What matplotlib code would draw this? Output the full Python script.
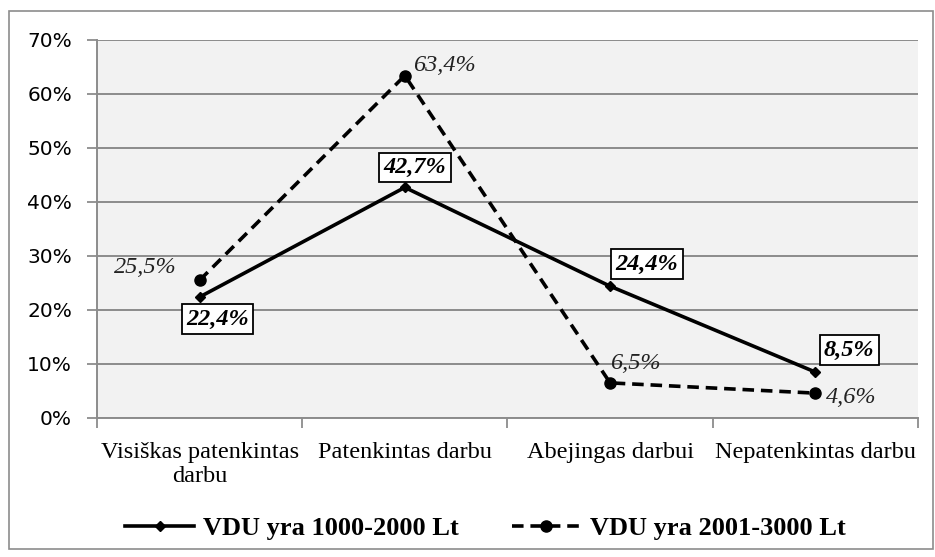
import matplotlib.pyplot as plt
from matplotlib.lines import Line2D
from matplotlib.patches import Rectangle

# duomenys
categories = ['Visiškas patenkintas\ndarbu', 'Patenkintas darbu', 'Abejingas darbui', 'Nepatenkintas darbu']
low_pay = [22.4, 42.7, 24.4, 8.5]
high_pay = [25.5, 63.4, 6.5, 4.6]
low_name = 'VDU yra 1000-2000 Lt'
high_name = 'VDU yra 2001-3000 Lt'
yticks = [0, 10, 20, 30, 40, 50, 60, 70]

low_offsets = [(18, -22), (10, 20), (37, 22), (34, 22)]
high_offsets = [(-54, 13), (40, 10), (25, 19), (36, -4)]

grid_c = '#8c8c8c'
lw = 2.6
dash = (0, (3.2, 1.9))

fig = plt.figure(figsize=(9.35, 5.57), dpi=100)
ax = fig.add_axes([0.1037, 0.2496, 0.8781, 0.6786])
ax.set_facecolor('#f2f2f2')

x = list(range(len(categories)))
ax.plot(x, low_pay, color='black', lw=lw, marker='D', ms=5.5, zorder=4)
ax.plot(x, high_pay, color='black', lw=lw, ls=dash, marker='o', ms=8, zorder=4)

for i, v in enumerate(low_pay):
    ax.annotate(f'{v:.1f}%'.replace('.', ','), (i, v), xytext=low_offsets[i],
                textcoords='offset pixels', ha='center', va='center',
                family='Liberation Serif', style='italic', weight='bold', fontsize=17.5,
                bbox=dict(boxstyle='square,pad=0.18', fc='white', ec='black', lw=1.3), zorder=6)
for i, v in enumerate(high_pay):
    ax.annotate(f'{v:.1f}%'.replace('.', ','), (i, v), xytext=high_offsets[i],
                textcoords='offset pixels', ha='center', va='center',
                family='Liberation Serif', style='italic', fontsize=17.5, color='#222222', zorder=6)

ax.set_xlim(-0.5, len(categories) - 0.5)
ax.set_ylim(0, 70)
ax.set_yticks(yticks)
ax.set_yticklabels([f'{t}%' for t in yticks], family='DejaVu Sans', fontsize=14.5)
ax.set_xticks(x)
ax.set_xticklabels(categories, family='Liberation Serif', fontsize=17.5)
ax.set_xticks([i - 0.5 for i in range(len(categories) + 1)], minor=True)
ax.tick_params(axis='x', which='major', length=0, pad=17)
ax.tick_params(axis='x', which='minor', length=7, width=1.3, color=grid_c)
ax.tick_params(axis='y', length=7, width=1.3, color=grid_c, pad=11)

ax.grid(axis='y', color=grid_c, lw=1.4)
ax.set_axisbelow(True)
for s in ['top', 'right']:
    ax.spines[s].set_visible(False)
for s in ['left', 'bottom']:
    ax.spines[s].set_color(grid_c)
    ax.spines[s].set_linewidth(1.4)

handles = [
    Line2D([], [], color='black', lw=lw, marker='D', ms=5.5),
    Line2D([], [], color='black', lw=lw, ls=dash, marker='o', ms=8),
]
fig.legend(handles, [low_name, high_name], loc='center', bbox_to_anchor=(0.519, 0.052),
           ncol=2, frameon=False, handlelength=2.6, columnspacing=2.0, handletextpad=0.35,
           prop={'family': 'Liberation Serif', 'weight': 'bold', 'size': 19})

fig.patches.append(Rectangle((9 / 935, 1 - 549 / 557), 924 / 935, 538 / 557,
                             transform=fig.transFigure, fill=False, ec=grid_c, lw=1.2))

fig.savefig('out.png', dpi=100)
